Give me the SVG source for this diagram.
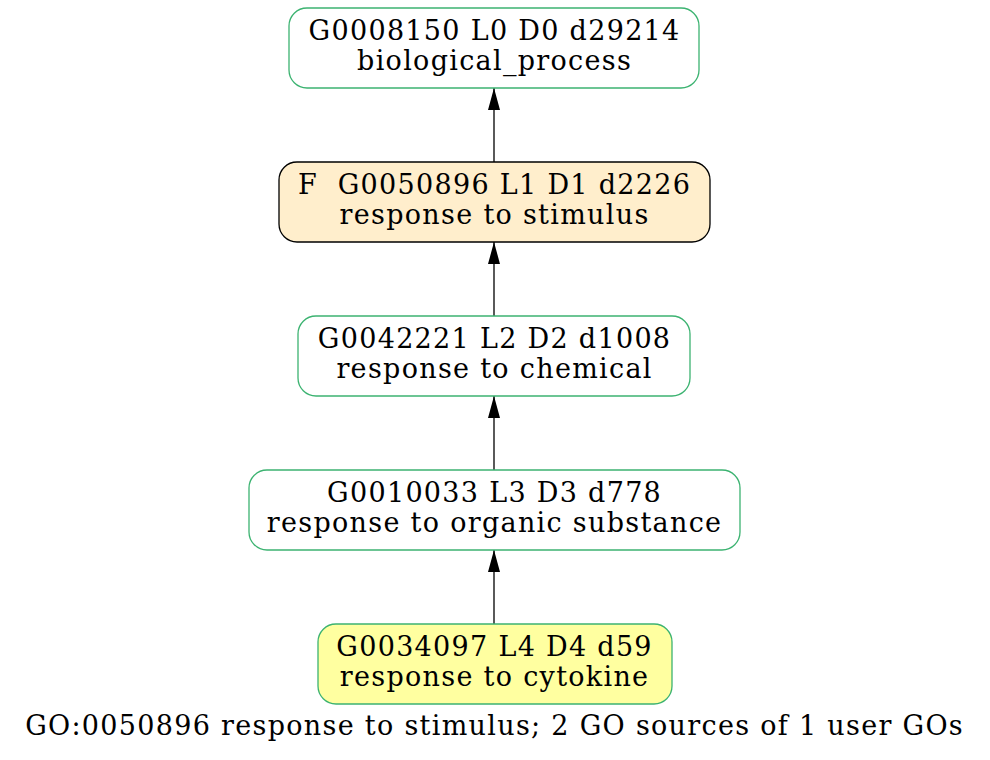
<svg xmlns="http://www.w3.org/2000/svg" width="990" height="760" viewBox="0 0 990 760">
<style>
.n{stroke:#3cb371;stroke-width:1.3;fill:#ffffff}
.t{font-family:"DejaVu Serif",serif;font-size:27px;letter-spacing:1.3px;text-anchor:middle;fill:#000}
.e{stroke:#000;stroke-width:1.3;fill:none}
</style>
<defs>
<marker id="a" markerWidth="22" markerHeight="12" refX="22" refY="6" orient="auto" markerUnits="userSpaceOnUse" viewBox="0 0 22 12">
<path d="M0,0 L22,6 L0,12 z" fill="#000"/>
</marker>
</defs>
<rect width="990" height="760" fill="#fff"/>
<g id="edges">
<line class="e" x1="494" y1="162" x2="494" y2="88" marker-end="url(#a)"/>
<line class="e" x1="494" y1="316" x2="494" y2="242" marker-end="url(#a)"/>
<line class="e" x1="494" y1="470" x2="494" y2="396" marker-end="url(#a)"/>
<line class="e" x1="494" y1="624" x2="494" y2="550" marker-end="url(#a)"/>
</g>
<g id="GO0008150">
<rect class="n" x="289" y="8" width="410" height="80" rx="18"/>
<text class="t" x="494.6" y="40">G0008150 L0 D0 d29214</text>
<text class="t" x="494.6" y="70">biological_process</text>
</g>
<g id="GO0050896">
<rect class="n" x="279" y="162" width="431" height="80" rx="18" style="fill:#ffeecc;stroke:#000"/>
<text class="t" x="494.6" y="194" xml:space="preserve">F  G0050896 L1 D1 d2226</text>
<text class="t" x="494.6" y="224">response to stimulus</text>
</g>
<g id="GO0042221">
<rect class="n" x="298" y="316" width="392" height="80" rx="18"/>
<text class="t" x="494.6" y="348">G0042221 L2 D2 d1008</text>
<text class="t" x="494.6" y="378">response to chemical</text>
</g>
<g id="GO0010033">
<rect class="n" x="249" y="470" width="491" height="80" rx="18"/>
<text class="t" x="494.6" y="502">G0010033 L3 D3 d778</text>
<text class="t" x="494.6" y="532">response to organic substance</text>
</g>
<g id="GO0034097">
<rect class="n" x="318" y="624" width="354" height="80" rx="18" style="fill:#ffffa0"/>
<text class="t" x="494.6" y="656">G0034097 L4 D4 d59</text>
<text class="t" x="494.6" y="686">response to cytokine</text>
</g>
<text class="t" x="494.6" y="735">GO:0050896 response to stimulus; 2 GO sources of 1 user GOs</text>
</svg>
